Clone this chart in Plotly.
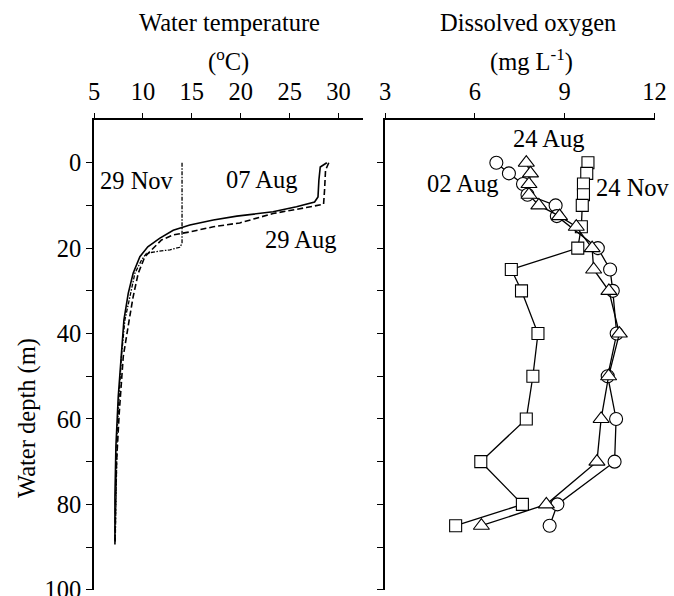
import plotly.graph_objects as go

# ---- Water temperature profiles (depth m, temperature degC)
aug07_depth = [0, 1, 4.1, 8, 9.2, 10.3, 11.5, 12.5, 13.4, 14.6, 15.8, 17.7, 19.7, 22, 25.9, 30.6, 36.8, 43.8, 54.7, 66.4, 78.1, 89.4]
aug07_temp = [28.8, 28.13, 27.99, 27.9, 27.55, 25.7, 23.3, 19.6, 17.2, 14.8, 13.1, 11.7, 10.5, 9.69, 9.0, 8.5, 8.06, 7.82, 7.48, 7.24, 7.14, 7.14]

aug29_depth = [0, 1.75, 6.4, 9.7, 10.5, 11.9, 14.1, 15, 16.2, 16.9, 18.1, 20.4, 22, 25.9, 31.4, 36.8, 40.7, 45.4, 58.6, 70.3, 89]
aug29_temp = [29.0, 28.67, 28.57, 28.47, 26.7, 23.3, 19.9, 17.2, 14.8, 13.1, 11.9, 10.9, 10.2, 9.52, 9.0, 8.6, 8.33, 7.99, 7.58, 7.3, 7.14]

nov29_depth = [0, 18.9, 19.8, 20.4, 20.8, 21.2, 22.8, 25.9, 31.4, 36.8, 45.4, 62.5, 89]
nov29_temp = [14.0, 14.0, 13.78, 12.76, 11.4, 10.37, 9.86, 9.18, 8.67, 8.16, 7.8, 7.38, 7.17]

# ---- Dissolved oxygen profiles (depth m, mg/L)
do_aug02_depth = [0, 2.5, 5, 7.5, 10, 12.5, 20, 25, 30, 40, 50, 60, 70, 80, 85]
do_aug02 = [6.72, 7.14, 7.61, 7.76, 8.7, 8.74, 10.11, 10.52, 10.61, 10.74, 10.44, 10.72, 10.67, 8.76, 8.5]

do_aug24_depth = [0, 2.5, 5, 7.5, 10, 12.5, 15, 20, 25, 30, 40, 50, 60, 70, 80, 85]
do_aug24 = [7.72, 7.86, 7.81, 7.81, 8.14, 8.83, 9.39, 9.92, 9.97, 10.48, 10.83, 10.47, 10.22, 10.08, 8.39, 6.22]

do_nov24_depth = [0, 2.5, 5, 7.5, 10, 15, 20, 25, 30, 40, 50, 60, 70, 80, 85]
do_nov24 = [9.78, 9.74, 9.63, 9.63, 9.59, 9.56, 9.44, 7.22, 7.56, 8.11, 7.94, 7.72, 6.2, 7.59, 5.36]

temp_ticks = [5, 10, 15, 20, 25, 30]
do_ticks = [3, 6, 9, 12]
depth_ticks = [0, 20, 40, 60, 80, 100]

FONT = "Liberation Serif"
FS = 24.5
W, H = 674, 596
ML, MR, MT, MB = 94, 19, 120, 6
PW, PH = W - ML - MR, H - MT - MB


def px(x):
    return (x - ML) / PW


def py(y):
    return (H - MB - y) / PH


fig = go.Figure()

line_w = 1.6
fig.add_trace(go.Scatter(x=nov29_temp, y=nov29_depth, mode="lines",
                         line=dict(color="black", width=1.3, dash="4px,1.5px,1.5px,1.5px"),
                         xaxis="x", yaxis="y", showlegend=False))
fig.add_trace(go.Scatter(x=aug29_temp, y=aug29_depth, mode="lines",
                         line=dict(color="black", width=line_w, dash="6px,3px"),
                         xaxis="x", yaxis="y", showlegend=False))
fig.add_trace(go.Scatter(x=aug07_temp, y=aug07_depth, mode="lines",
                         line=dict(color="black", width=line_w),
                         xaxis="x", yaxis="y", showlegend=False))

mk = dict(color="white", size=12, line=dict(color="black", width=1.1))
fig.add_trace(go.Scatter(x=do_nov24, y=do_nov24_depth, mode="lines+markers",
                         line=dict(color="black", width=1.3),
                         marker=dict(symbol="square", **mk),
                         xaxis="x2", yaxis="y2", showlegend=False))
fig.add_trace(go.Scatter(x=do_aug02, y=do_aug02_depth, mode="lines+markers",
                         line=dict(color="black", width=1.3),
                         marker=dict(symbol="circle", **{**mk, "size": 13}),
                         xaxis="x2", yaxis="y2", showlegend=False))
fig.add_trace(go.Scatter(x=do_aug24, y=do_aug24_depth, mode="lines+markers",
                         line=dict(color="black", width=1.3),
                         marker=dict(symbol="triangle-up", **{**mk, "size": 14}),
                         xaxis="x2", yaxis="y2", showlegend=False))

tickfont = dict(family=FONT, size=FS, color="black")
common_x = dict(side="top", showline=True, linecolor="black", linewidth=1.5,
                ticks="outside", ticklen=5, tickwidth=1.3, tickcolor="black",
                showgrid=False, zeroline=False, tickfont=tickfont,
                ticklabelstandoff=3, ticklabeloverflow="allow", automargin=False)
common_y = dict(range=[100.05, -10], showline=True, linecolor="black", linewidth=1.5,
                ticks="outside", ticklen=6, tickwidth=1.3, tickcolor="black",
                showgrid=False, zeroline=False, tickfont=tickfont,
                ticklabeloverflow="allow", automargin=False)

fig.update_layout(
    width=W, height=H,
    margin=dict(l=ML, r=MR, t=MT, b=MB, autoexpand=False),
    paper_bgcolor="white", plot_bgcolor="white",
    font=dict(family=FONT, size=FS, color="black"),
    xaxis=dict(domain=[0, 269 / PW], range=[5, 32.5], tickvals=temp_ticks,
               anchor="y", **common_x),
    xaxis2=dict(domain=[291 / PW, 1], range=[3, 12.02], tickvals=do_ticks,
                anchor="y2", **common_x),
    yaxis=dict(domain=[0, 1], anchor="x", tickvals=depth_ticks,
               minor=dict(tickvals=[10, 30, 50, 70, 90], ticks="outside", ticklen=6,
                          tickwidth=1.3, tickcolor="black"),
               **common_y),
    yaxis2=dict(domain=[0, 1], anchor="x2", tickvals=list(range(0, 101, 10)),
                showticklabels=False, **common_y),
)

ann = []


def add_paper(text, x, y, angle=0):
    ann.append(dict(text=text, x=px(x), y=py(y), xref="paper", yref="paper",
                    showarrow=False, xanchor="center", yanchor="middle",
                    textangle=angle, font=dict(family=FONT, size=FS, color="black")))


add_paper("Water temperature", 229, 22)
add_paper("(<sup>o</sup>C)", 228, 60)
add_paper("Dissolved oxygen", 528, 22)
add_paper("(mg L<sup>-1</sup>)", 531, 60)
add_paper("Water depth (m)", 27, 418, -90)


def add_data(text, x, y, xr, yr):
    ann.append(dict(text=text, x=x, y=y, xref=xr, yref=yr, showarrow=False,
                    xanchor="center", yanchor="middle",
                    font=dict(family=FONT, size=FS, color="black")))


add_data("29 Nov", 9.39, 4.1, "x", "y")
add_data("07 Aug", 22.1, 3.9, "x", "y")
add_data("29 Aug", 26.1, 17.9, "x", "y")
add_data("24 Aug", 8.47, -5.7, "x2", "y2")
add_data("02 Aug", 5.6, 4.8, "x2", "y2")
add_data("24 Nov", 11.3, 5.7, "x2", "y2")

fig.update_layout(annotations=ann)

fig.write_html("out.html")
